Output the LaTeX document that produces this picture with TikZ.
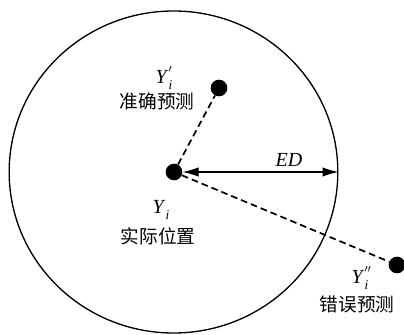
\documentclass[tikz,border=0pt]{standalone}
\usepackage{fontspec}
\setmainfont{Liberation Serif}
\newfontfamily\cjk{Noto Sans CJK SC}
\usetikzlibrary{arrows.meta,shapes.geometric}
\tikzset{
  dotnode/.style={circle, fill=black, inner sep=0pt, minimum size=12.5pt},
  lbl/.style={inner sep=0pt, font=\fontsize{15pt}{17pt}\selectfont},
  cjklbl/.style={inner sep=0pt, font=\cjk\fontsize{14pt}{16pt}\selectfont},
  dashline/.style={line width=1.3pt, dash pattern=on 5pt off 3pt},
}
\newcommand{\Yv}[1]{\textit{Y}\rlap{\raisebox{0.3em}{\fontsize{11pt}{11pt}\selectfont #1}}\raisebox{-0.3em}{\fontsize{10pt}{10pt}\selectfont\textit{i}}}
\begin{document}
\begin{tikzpicture}[x=0.75pt,y=-0.75pt]
\useasboundingbox (0,0) rectangle (404,335);
\node[ellipse, draw, line width=1pt, inner sep=0pt, minimum width=246.5pt, minimum height=241.5pt] (C) at (173.5,172) {};
\node[dotnode] (Y) at (174,172) {};
\node[dotnode] (Yp) at (219,88) {};
\node[dotnode] (Ypp) at (397,265) {};
\coordinate (E) at (338.5,172);
\draw[dashline] (Y) -- (Yp);
\draw[dashline] (Y) -- (Ypp);
\draw[line width=0.8pt, {Latex[length=12pt,width=7pt]}-{Latex[length=12pt,width=7pt]}] (Y.east) -- (E);
\node[lbl] (ED) at (289,160) {\textit{ED}};
\node[lbl] (L1) at (164,78) {\Yv{$'$}};
\node[cjklbl] (T1) at (157,101) {准确预测};
\node[lbl] (L2) at (161,210) {\Yv{}};
\node[cjklbl] (T2) at (158,236) {实际位置};
\node[lbl] (L3) at (360,278) {\Yv{$''$}};
\node[cjklbl] (T3) at (357,304) {错误预测};
\end{tikzpicture}
\end{document}
